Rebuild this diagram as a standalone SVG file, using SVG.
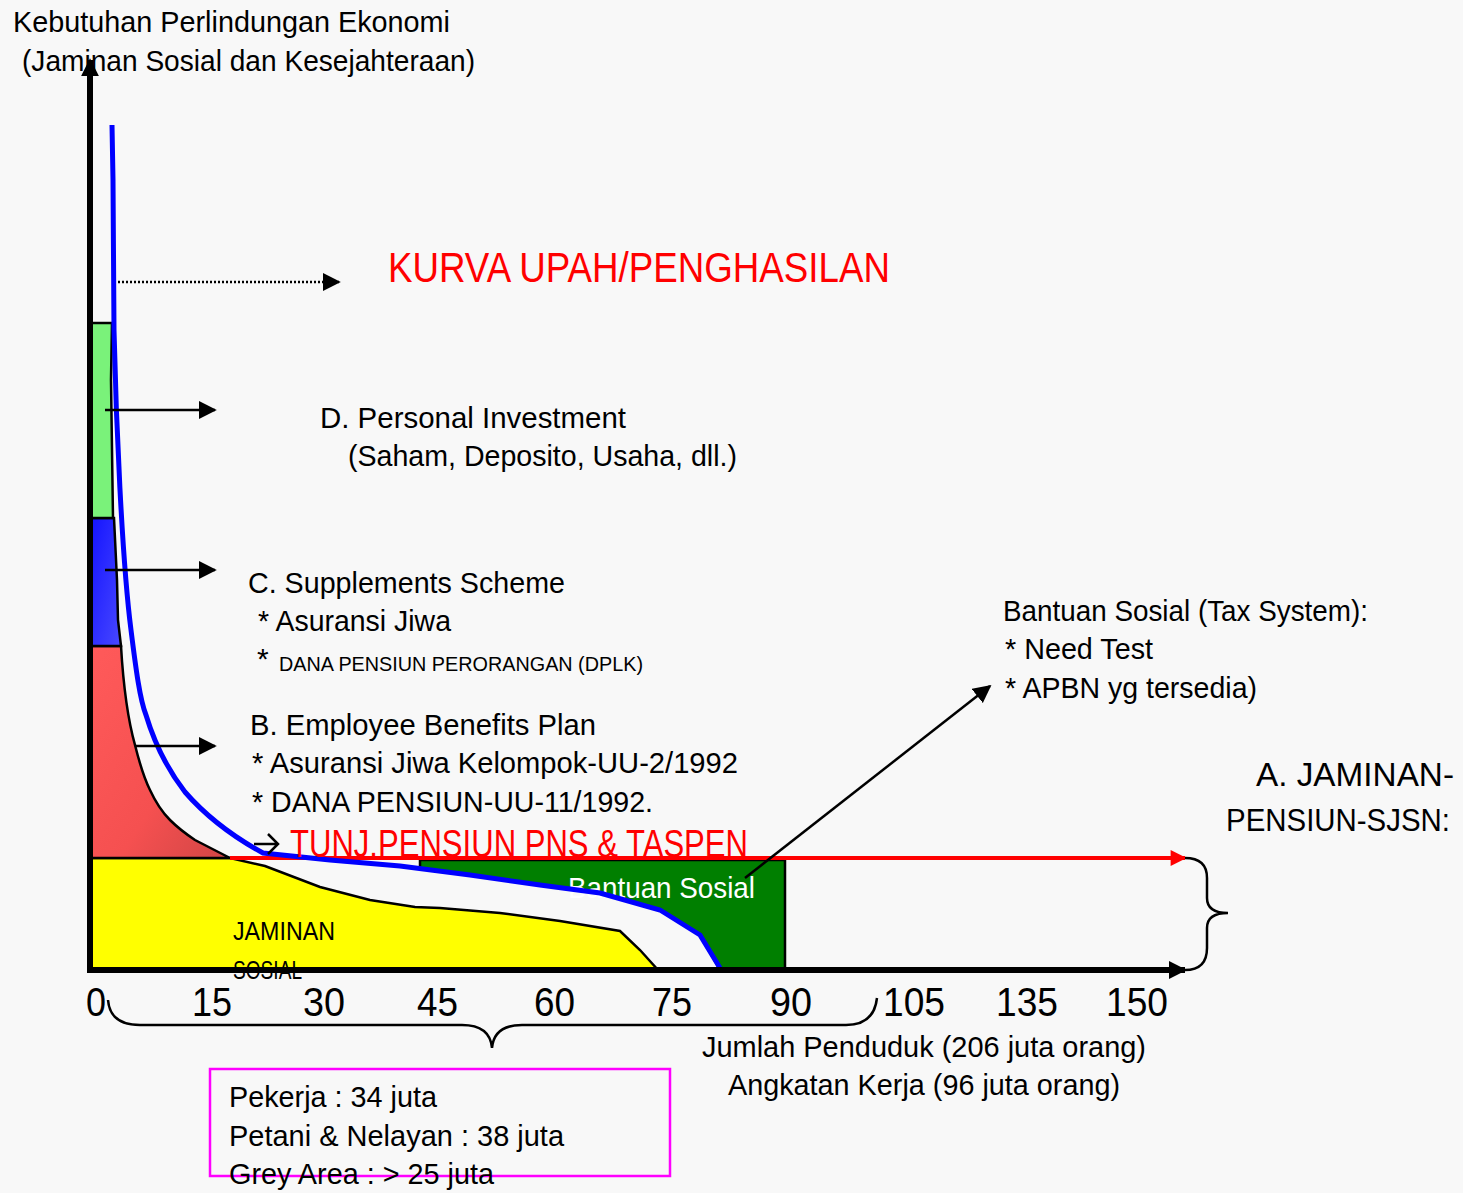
<svg xmlns="http://www.w3.org/2000/svg" width="1463" height="1193" viewBox="0 0 1463 1193">
<defs>
<style>
text{font-family:"Liberation Sans",Arial,sans-serif;fill:#000}
.t28{font-size:30px}
.ax{stroke:#000;stroke-width:6;fill:none}
.ln{stroke:#000;stroke-width:2.5;fill:none}
.ol{stroke:#000;stroke-width:2.5}
</style>
<linearGradient id="gRed" x1="0" y1="0" x2="1" y2="1">
<stop offset="0" stop-color="#ff5a5a"/><stop offset="0.6" stop-color="#f55050"/><stop offset="1" stop-color="#d04545"/>
</linearGradient>
<linearGradient id="gBlue" x1="0" y1="0" x2="1" y2="1">
<stop offset="0" stop-color="#1414ff"/><stop offset="1" stop-color="#4848ff"/>
</linearGradient>
<marker id="ahB" viewBox="0 0 10 10" refX="9" refY="5" markerWidth="18" markerHeight="18" orient="auto" markerUnits="userSpaceOnUse">
<path d="M0,0 L10,5 L0,10 z" fill="#000"/>
</marker>
<marker id="ahS" viewBox="0 0 10 10" refX="9" refY="5" markerWidth="18" markerHeight="18" orient="auto" markerUnits="userSpaceOnUse">
<path d="M0,0 L10,5 L0,10 z" fill="#000"/>
</marker>
<marker id="ahR" viewBox="0 0 10 10" refX="9" refY="5" markerWidth="18" markerHeight="16" orient="auto" markerUnits="userSpaceOnUse">
<path d="M0,0 L10,5 L0,10 z" fill="#ff0000"/>
</marker>
</defs>
<rect width="1463" height="1193" fill="#f8f8f8"/>

<g id="area-jaminan-sosial">
<path d="M91,858 L230,858 L265,866 L320,887 L370,900 L415,907 L440,908 L500,913 L560,921 L620,931 L640,950 L658,970 L91,970 Z" fill="#ffff00" class="ol"/>
<text x="233" y="940" font-size="26" textLength="102" lengthAdjust="spacingAndGlyphs">JAMINAN</text>
<text x="233" y="979" font-size="26" textLength="69" lengthAdjust="spacingAndGlyphs">SOSIAL</text>
</g>

<g id="area-employee">
<path d="M91,646 L121,646 C123,680 128,720 135,745 C140,765 145,780 150,790 C156,803 162,812 170,820 C178,828 186,834 195,840 L230,858 L91,858 Z" fill="url(#gRed)" class="ol"/>
</g>
<g id="area-supplements">
<path d="M91,518 L114,518 L117,580 L118,620 L121,646 L91,646 Z" fill="url(#gBlue)" class="ol"/>
</g>
<g id="area-personal">
<path d="M91,323 L112,323 L111,380 L113,518 L91,518 Z" fill="#7af27a" class="ol"/>
</g>

<g id="area-bantuan">
<path d="M420,860 L785,860 L785,970 L720,970 L700,935 L660,910 L600,893 L540,885 L470,875 L420,868 Z" fill="#007f00" class="ol"/>
<text x="568" y="898" class="t28" style="fill:#ffffff" textLength="187" lengthAdjust="spacingAndGlyphs">Bantuan Sosial</text>
</g>

<g id="connectors">
<line x1="230" y1="858" x2="1185" y2="858" stroke="#ff0000" stroke-width="4" marker-end="url(#ahR)"/>
<path d="M112,125 L113,180 L114,330 C116,420 122,560 131,630 C136,670 140,700 146,715 C155,745 168,770 185,792 C205,815 230,835 263,853 L330,860 L400,866 L470,875 L540,885 L600,893 L660,910 L700,935 L720,968" fill="none" stroke="#0000ff" stroke-width="5"/>
<line x1="90" y1="972" x2="90" y2="60" class="ax" marker-end="url(#ahB)"/>
<line x1="87" y1="970" x2="1185" y2="970" class="ax" marker-end="url(#ahB)"/>
<line x1="118" y1="282" x2="339" y2="282" stroke="#000" stroke-width="2.5" stroke-dasharray="2,2" marker-end="url(#ahS)"/>
<line x1="105" y1="410" x2="215" y2="410" class="ln" marker-end="url(#ahS)"/>
<line x1="105" y1="570" x2="215" y2="570" class="ln" marker-end="url(#ahS)"/>
<line x1="135" y1="746" x2="215" y2="746" class="ln" marker-end="url(#ahS)"/>
<path d="M254,844 L278,844 M268,834 L278,844 L268,854" class="ln"/>
<line x1="745" y1="878" x2="990" y2="686" class="ln" marker-end="url(#ahS)"/>
<path d="M1185,970 Q1207,970 1207,948 L1207,928 Q1207,913 1228,913 Q1207,913 1207,898 L1207,878 Q1207,858 1185,858" class="ln"/>
<path d="M108,1000 Q110,1025 140,1025 L462,1025 Q490,1025 492,1048 Q494,1025 522,1025 L846,1025 Q874,1025 877,998" class="ln"/>
</g>

<g id="title">
<text x="13" y="32" class="t28" textLength="437" lengthAdjust="spacingAndGlyphs">Kebutuhan Perlindungan Ekonomi</text>
<text x="22" y="71" class="t28" textLength="453" lengthAdjust="spacingAndGlyphs">(Jaminan Sosial dan Kesejahteraan)</text>
</g>

<g id="label-kurva">
<text x="388" y="282" font-size="42" style="fill:#ff0000" textLength="502" lengthAdjust="spacingAndGlyphs">KURVA UPAH/PENGHASILAN</text>
</g>

<g id="label-d">
<text x="320" y="428" class="t28" textLength="306" lengthAdjust="spacingAndGlyphs">D. Personal Investment</text>
<text x="348" y="466" class="t28" textLength="389" lengthAdjust="spacingAndGlyphs">(Saham, Deposito, Usaha, dll.)</text>
</g>

<g id="label-c">
<text x="248" y="593" class="t28" textLength="317" lengthAdjust="spacingAndGlyphs">C. Supplements Scheme</text>
<text x="258" y="631" class="t28" textLength="193" lengthAdjust="spacingAndGlyphs">* Asuransi Jiwa</text>
<text x="257" y="669" class="t28">*</text>
<text x="279" y="671" font-size="21" textLength="364" lengthAdjust="spacingAndGlyphs">DANA PENSIUN PERORANGAN (DPLK)</text>
</g>

<g id="label-b">
<text x="250" y="735" class="t28" textLength="346" lengthAdjust="spacingAndGlyphs">B. Employee Benefits Plan</text>
<text x="252" y="773" class="t28" textLength="486" lengthAdjust="spacingAndGlyphs">* Asuransi Jiwa Kelompok-UU-2/1992</text>
<text x="252" y="812" class="t28" textLength="401" lengthAdjust="spacingAndGlyphs">* DANA PENSIUN-UU-11/1992.</text>
</g>

<g id="label-tunj">
<text x="290" y="857" font-size="39" style="fill:#ff0000" textLength="458" lengthAdjust="spacingAndGlyphs">TUNJ.PENSIUN PNS &amp; TASPEN</text>
</g>

<g id="label-tax">
<text x="1003" y="621" class="t28" textLength="365" lengthAdjust="spacingAndGlyphs">Bantuan Sosial (Tax System):</text>
<text x="1005" y="659" class="t28" textLength="148" lengthAdjust="spacingAndGlyphs">* Need Test</text>
<text x="1005" y="698" class="t28" textLength="252" lengthAdjust="spacingAndGlyphs">* APBN yg tersedia)</text>
</g>

<g id="label-a">
<text x="1454" y="786" font-size="33" text-anchor="end" textLength="198" lengthAdjust="spacingAndGlyphs">A. JAMINAN-</text>
<text x="1450" y="831" font-size="31" text-anchor="end" textLength="224" lengthAdjust="spacingAndGlyphs">PENSIUN-SJSN:</text>
</g>

<g id="x-labels">
<text x="86" y="1016" font-size="41" textLength="20" lengthAdjust="spacingAndGlyphs">0</text>
<text x="192" y="1016" font-size="41" textLength="40" lengthAdjust="spacingAndGlyphs">15</text>
<text x="303" y="1016" font-size="41" textLength="42" lengthAdjust="spacingAndGlyphs">30</text>
<text x="417" y="1016" font-size="41" textLength="41" lengthAdjust="spacingAndGlyphs">45</text>
<text x="534" y="1016" font-size="41" textLength="41" lengthAdjust="spacingAndGlyphs">60</text>
<text x="652" y="1016" font-size="41" textLength="40" lengthAdjust="spacingAndGlyphs">75</text>
<text x="770" y="1016" font-size="41" textLength="42" lengthAdjust="spacingAndGlyphs">90</text>
<text x="883" y="1016" font-size="41" textLength="62" lengthAdjust="spacingAndGlyphs">105</text>
<text x="996" y="1016" font-size="41" textLength="62" lengthAdjust="spacingAndGlyphs">135</text>
<text x="1106" y="1016" font-size="41" textLength="62" lengthAdjust="spacingAndGlyphs">150</text>
</g>

<g id="label-penduduk">
<text x="702" y="1057" class="t28" textLength="444" lengthAdjust="spacingAndGlyphs">Jumlah Penduduk (206 juta orang)</text>
<text x="728" y="1095" class="t28" textLength="392" lengthAdjust="spacingAndGlyphs">Angkatan Kerja (96 juta orang)</text>
</g>

<g id="box-pekerja">
<rect x="210" y="1069" width="460" height="107" fill="none" stroke="#ff00ff" stroke-width="2.5"/>
<text x="229" y="1107" class="t28" textLength="208" lengthAdjust="spacingAndGlyphs">Pekerja : 34 juta</text>
<text x="229" y="1146" class="t28" textLength="335" lengthAdjust="spacingAndGlyphs">Petani &amp; Nelayan : 38 juta</text>
<text x="229" y="1184" class="t28" textLength="265" lengthAdjust="spacingAndGlyphs">Grey Area : &gt; 25 juta</text>
</g>
</svg>
